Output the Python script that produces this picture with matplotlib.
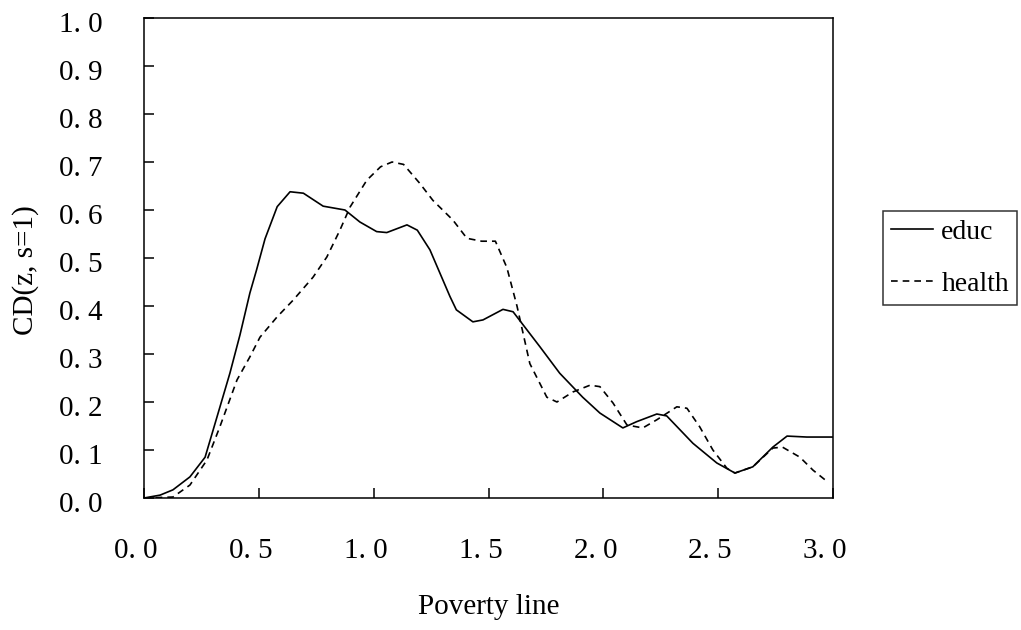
import matplotlib
matplotlib.use('Agg')
import matplotlib.pyplot as plt
import matplotlib.transforms as mtransforms

# values
educ_x = [0.0, 0.07, 0.126, 0.2, 0.266, 0.30, 0.374, 0.418, 0.461, 0.49, 0.527, 0.58, 0.636,
          0.694, 0.78, 0.875, 0.94, 1.013, 1.057, 1.145, 1.19, 1.245, 1.332, 1.36, 1.432,
          1.476, 1.563, 1.607, 1.724, 1.81, 1.91, 1.985, 2.085, 2.145, 2.233, 2.276, 2.39,
          2.494, 2.573, 2.651, 2.738, 2.80, 2.886, 3.0]
educ_y = [0.0, 0.006, 0.017, 0.044, 0.085, 0.14, 0.26, 0.34, 0.427, 0.475, 0.54, 0.607, 0.638,
          0.635, 0.608, 0.60, 0.575, 0.555, 0.553, 0.569, 0.558, 0.517, 0.42, 0.392, 0.367,
          0.371, 0.393, 0.388, 0.315, 0.26, 0.21, 0.177, 0.146, 0.159, 0.175, 0.171, 0.114,
          0.073, 0.052, 0.065, 0.106, 0.129, 0.127, 0.127]

health_x = [0.0, 0.126, 0.2, 0.274, 0.33, 0.405, 0.461, 0.505, 0.579, 0.649, 0.736, 0.796,
            0.853, 0.897, 0.97, 1.03, 1.08, 1.13, 1.2, 1.258, 1.345, 1.406, 1.47, 1.53, 1.58,
            1.624, 1.68, 1.754, 1.798, 1.868, 1.942, 1.985, 2.042, 2.103, 2.172, 2.233, 2.32,
            2.364, 2.42, 2.477, 2.538, 2.573, 2.651, 2.738, 2.78, 2.856, 2.913, 2.978]
health_y = [0.0, 0.002, 0.027, 0.079, 0.148, 0.246, 0.294, 0.335, 0.377, 0.412, 0.46, 0.502,
            0.558, 0.606, 0.662, 0.69, 0.70, 0.695, 0.656, 0.62, 0.579, 0.541, 0.535, 0.535, 0.48,
            0.40, 0.28, 0.21, 0.20, 0.221, 0.235, 0.232, 0.198, 0.152, 0.146, 0.163, 0.19,
            0.187, 0.148, 0.10, 0.062, 0.052, 0.065, 0.104, 0.106, 0.085, 0.058, 0.033]

x_ticks = [0.0, 0.5, 1.0, 1.5, 2.0, 2.5, 3.0]
x_tick_labels = ['0. 0', '0. 5', '1. 0', '1. 5', '2. 0', '2. 5', '3. 0']
y_ticks = [0.0, 0.1, 0.2, 0.3, 0.4, 0.5, 0.6, 0.7, 0.8, 0.9, 1.0]
y_tick_labels = ['0. 0', '0. 1', '0. 2', '0. 3', '0. 4', '0. 5', '0. 6', '0. 7', '0. 8', '0. 9', '1. 0']

plt.rcParams['font.family'] = ['Liberation Serif', 'DejaVu Serif']

fig = plt.figure(figsize=(10.21, 6.30), dpi=100)
ax = fig.add_axes([144/1021, 1 - 498/630, (833 - 144)/1021, (498 - 18)/630])

ax.plot(educ_x, educ_y, color='black', linewidth=1.2, label='educ')
ax.plot(health_x, health_y, color='black', linewidth=1.2, linestyle=(0, (4, 3)), label='health')

ax.set_xlim(0, 3)
ax.set_ylim(0, 1)
ax.set_xticks(x_ticks)
ax.set_xticklabels(x_tick_labels, fontsize=21)
ax.set_yticks(y_ticks)
ax.set_yticklabels(y_tick_labels, fontsize=21)
ax.tick_params(axis='both', direction='in', length=7, width=1.1, color='black')
ax.tick_params(axis='x', pad=29)
ax.tick_params(axis='y', pad=30)
for sp in ax.spines.values():
    sp.set_linewidth(1.1)

# labels in the scan sit a little left of their ticks / slightly below
shift_x = mtransforms.ScaledTranslation(-8/100, 0, fig.dpi_scale_trans)
for lab in ax.get_xticklabels():
    lab.set_transform(lab.get_transform() + shift_x)
shift_y = mtransforms.ScaledTranslation(0, -4/100, fig.dpi_scale_trans)
for lab in ax.get_yticklabels():
    lab.set_transform(lab.get_transform() + shift_y)

ax.set_xlabel('Poverty line', fontsize=21)
ax.xaxis.set_label_coords(0.5, -0.2)
ax.set_ylabel('CD(z, s=1)', fontsize=21)
ax.yaxis.set_label_coords(-0.152, 0.475)

leg = fig.legend(loc='center left', bbox_to_anchor=(883/1021, 1 - 258/630), fontsize=20,
                 frameon=True, fancybox=False, edgecolor='black', handlelength=1.5,
                 handletextpad=0.3, labelspacing=0.95, borderpad=0.3, borderaxespad=0)
leg.get_frame().set_linewidth(1.1)

fig.savefig('out.png', dpi=100)
